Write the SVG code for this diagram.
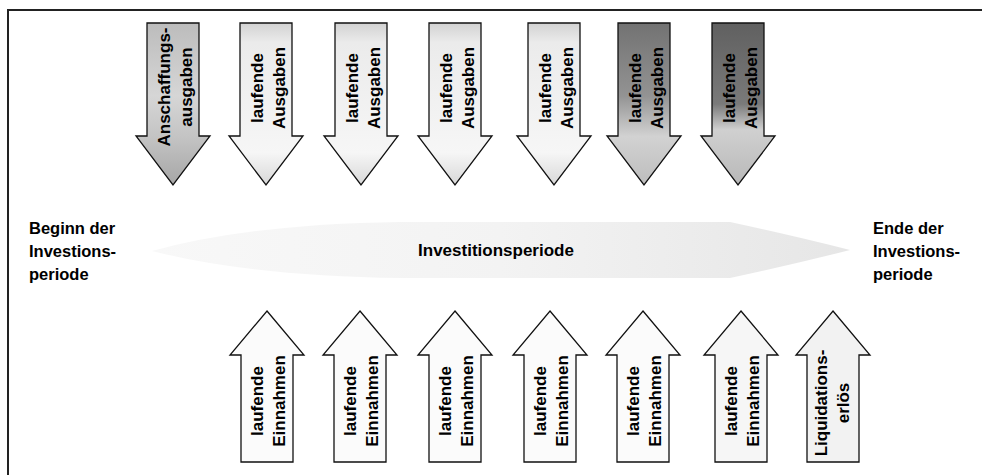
<svg xmlns="http://www.w3.org/2000/svg" xmlns:xlink="http://www.w3.org/1999/xlink" width="982" height="475" viewBox="0 0 982 475">
<style>
  .arrow { stroke: #111; stroke-width: 1.3; stroke-linejoin: miter; }
  .t { font-family: "Liberation Sans", Arial, sans-serif; font-weight: bold; font-size: 17px; fill: #000; }
  .v { text-anchor: middle; }
  .lbl { font-family: "Liberation Sans", Arial, sans-serif; font-weight: bold; font-size: 16.5px; fill: #000; }
</style>
<defs>
  <linearGradient id="gA" x1="0" y1="0" x2="0" y2="1">
    <stop offset="0" stop-color="#bcbcbc"/>
    <stop offset="0.45" stop-color="#d6d6d6"/>
    <stop offset="0.7" stop-color="#c4c4c4"/>
    <stop offset="1" stop-color="#a6a6a6"/>
  </linearGradient>
  <linearGradient id="gL" x1="0" y1="0" x2="0" y2="1">
    <stop offset="0" stop-color="#d2d2d2"/>
    <stop offset="0.12" stop-color="#ebebeb"/>
    <stop offset="0.8" stop-color="#f6f6f6"/>
    <stop offset="1" stop-color="#d8d8d8"/>
  </linearGradient>
  <linearGradient id="gD1" x1="0" y1="0" x2="0" y2="1">
    <stop offset="0" stop-color="#727272"/>
    <stop offset="0.45" stop-color="#939393"/>
    <stop offset="0.7" stop-color="#d2d2d2"/>
    <stop offset="1" stop-color="#bdbdbd"/>
  </linearGradient>
  <linearGradient id="gD2" x1="0" y1="0" x2="0" y2="1">
    <stop offset="0" stop-color="#606060"/>
    <stop offset="0.5" stop-color="#7a7a7a"/>
    <stop offset="0.66" stop-color="#d0d0d0"/>
    <stop offset="1" stop-color="#b8b8b8"/>
  </linearGradient>
  <linearGradient id="gMid" x1="0" y1="0" x2="1" y2="0">
    <stop offset="0" stop-color="#f8f8f8"/>
    <stop offset="0.5" stop-color="#f3f3f3"/>
    <stop offset="1" stop-color="#e6e6e6"/>
  </linearGradient>
  <path id="down" d="M-26,23 H26 V136 H37 L0,185 L-37,136 H-26 Z"/>
  <path id="up" d="M0,311 L37,355 H26 V462 H-26 V355 H-37 Z"/>
</defs>

<rect x="0" y="0" width="982" height="475" fill="#fff"/>

<!-- frame -->
<g id="frame" stroke="#222" stroke-width="2" fill="none">
  <path d="M8,475 V10 H982"/>
</g>

<!-- period arrow -->
<g id="period">
  <path d="M152,251 Q250,224 400,222 L730,222 Q795,236 850,250 Q795,264 730,278 L400,278 Q250,276 152,251 Z" fill="url(#gMid)"/>
  <text class="t" x="496" y="256" text-anchor="middle">Investitionsperiode</text>
</g>

<g id="begin">
  <text class="lbl"><tspan x="29" y="234">Beginn der</tspan><tspan x="29" y="257">Investions-</tspan><tspan x="29" y="280">periode</tspan></text>
</g>
<g id="end">
  <text class="lbl"><tspan x="873" y="234">Ende der</tspan><tspan x="873" y="257">Investions-</tspan><tspan x="873" y="280">periode</tspan></text>
</g>

<!-- outflows -->
<g id="out1" transform="translate(173,0)">
  <use xlink:href="#down" class="arrow" fill="url(#gA)"/>
  <text class="t v" transform="translate(0,87) rotate(-90)"><tspan x="0" y="-3">Anschaffungs-</tspan><tspan x="0" y="19">ausgaben</tspan></text>
</g>
<g id="out2" transform="translate(266,0)">
  <use xlink:href="#down" class="arrow" fill="url(#gL)"/>
  <text class="t v" transform="translate(0,88) rotate(-90)"><tspan x="0" y="-3">laufende</tspan><tspan x="0" y="19">Ausgaben</tspan></text>
</g>
<g id="out3" transform="translate(361,0)">
  <use xlink:href="#down" class="arrow" fill="url(#gL)"/>
  <text class="t v" transform="translate(0,88) rotate(-90)"><tspan x="0" y="-3">laufende</tspan><tspan x="0" y="19">Ausgaben</tspan></text>
</g>
<g id="out4" transform="translate(455,0)">
  <use xlink:href="#down" class="arrow" fill="url(#gL)"/>
  <text class="t v" transform="translate(0,88) rotate(-90)"><tspan x="0" y="-3">laufende</tspan><tspan x="0" y="19">Ausgaben</tspan></text>
</g>
<g id="out5" transform="translate(554,0)">
  <use xlink:href="#down" class="arrow" fill="url(#gL)"/>
  <text class="t v" transform="translate(0,88) rotate(-90)"><tspan x="0" y="-3">laufende</tspan><tspan x="0" y="19">Ausgaben</tspan></text>
</g>
<g id="out6" transform="translate(644,0)">
  <use xlink:href="#down" class="arrow" fill="url(#gD1)"/>
  <text class="t v" transform="translate(0,88) rotate(-90)"><tspan x="0" y="-3">laufende</tspan><tspan x="0" y="19">Ausgaben</tspan></text>
</g>
<g id="out7" transform="translate(738,0)">
  <use xlink:href="#down" class="arrow" fill="url(#gD2)"/>
  <text class="t v" transform="translate(0,88) rotate(-90)"><tspan x="0" y="-3">laufende</tspan><tspan x="0" y="19">Ausgaben</tspan></text>
</g>

<!-- inflows -->
<g id="in1" transform="translate(267,0)">
  <use xlink:href="#up" class="arrow" fill="#fbfbfb"/>
  <text class="t v" transform="translate(0,401) rotate(-90)"><tspan x="0" y="-4">laufende</tspan><tspan x="0" y="18">Einnahmen</tspan></text>
</g>
<g id="in2" transform="translate(360,0)">
  <use xlink:href="#up" class="arrow" fill="#fbfbfb"/>
  <text class="t v" transform="translate(0,401) rotate(-90)"><tspan x="0" y="-4">laufende</tspan><tspan x="0" y="18">Einnahmen</tspan></text>
</g>
<g id="in3" transform="translate(455,0)">
  <use xlink:href="#up" class="arrow" fill="#fbfbfb"/>
  <text class="t v" transform="translate(0,401) rotate(-90)"><tspan x="0" y="-4">laufende</tspan><tspan x="0" y="18">Einnahmen</tspan></text>
</g>
<g id="in4" transform="translate(550,0)">
  <use xlink:href="#up" class="arrow" fill="#fbfbfb"/>
  <text class="t v" transform="translate(0,401) rotate(-90)"><tspan x="0" y="-4">laufende</tspan><tspan x="0" y="18">Einnahmen</tspan></text>
</g>
<g id="in5" transform="translate(643,0)">
  <use xlink:href="#up" class="arrow" fill="#fbfbfb"/>
  <text class="t v" transform="translate(0,401) rotate(-90)"><tspan x="0" y="-4">laufende</tspan><tspan x="0" y="18">Einnahmen</tspan></text>
</g>
<g id="in6" transform="translate(741,0)">
  <use xlink:href="#up" class="arrow" fill="#f6f6f6"/>
  <text class="t v" transform="translate(0,401) rotate(-90)"><tspan x="0" y="-4">laufende</tspan><tspan x="0" y="18">Einnahmen</tspan></text>
</g>
<g id="in7" transform="translate(833,0)">
  <use xlink:href="#up" class="arrow" fill="#f2f2f2"/>
  <text class="t v" transform="translate(0,403) rotate(-90)"><tspan x="0" y="-6">Liquidations-</tspan><tspan x="0" y="16">erlös</tspan></text>
</g>
</svg>
